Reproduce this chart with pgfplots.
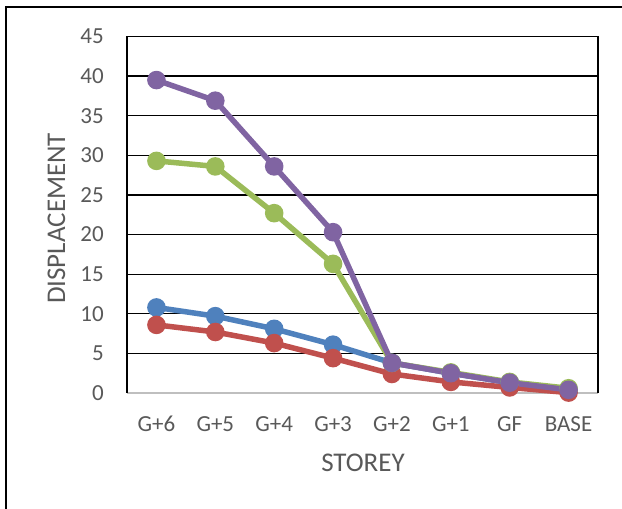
\documentclass[border=0pt]{standalone}
\usepackage{pgfplots}
\pgfplotsset{compat=1.18}
\usepackage{fontspec}
\setmainfont{Carlito}

\definecolor{txtgray}{HTML}{595959}
\definecolor{serblue}{HTML}{4F81BD}
\definecolor{serred}{HTML}{C0504D}
\definecolor{sergreen}{HTML}{9BBB59}
\definecolor{serpurple}{HTML}{8064A2}

\begin{document}
\begin{tikzpicture}[x=1pt,y=1pt]
\useasboundingbox (0,0) rectangle (622,509);
\begin{scope}
\clip (0,0) rectangle (622,509);
\draw[line width=2pt,black] (6,-20) -- (6,501.7) -- (660,501.7);
\end{scope}
\begin{axis}[
  at={(127pt,116pt)}, anchor=south west,
  scale only axis, width=471pt, height=356.5pt,
  xmin=-0.5, xmax=7.5, ymin=0, ymax=45,
  xtick={0,...,7},
  xticklabels={G+6,G+5,G+4,G+3,G+2,G+1,GF,BASE},
  ytick={0,5,...,45},
  /pgf/number format/assume math mode=true,
  axis line style={draw=none},
  major tick length=0pt,
  ymajorgrids, grid style={black, line width=1.3pt},
  tick label style={font=\fontsize{23}{27}\selectfont, text=txtgray},
  xticklabel style={inner sep=0pt, yshift=-23pt},
  yticklabel style={inner sep=0pt, xshift=-23pt},
  clip=false,
  every axis plot/.append style={line width=5.5pt, mark=*, mark size=6.5pt},
]
\draw[line width=1.5pt, black!25] (rel axis cs:0,0) -- (rel axis cs:1,0);
\draw[line width=1.5pt, black] (rel axis cs:0,0) -- (rel axis cs:0,1);
\draw[line width=1.5pt, black] (rel axis cs:1,0) -- (rel axis cs:1,1);

\addplot[serblue, mark options={fill=serblue, draw=serblue}] coordinates {
  (0,10.8) (1,9.7) (2,8.1) (3,6.1) (4,3.8) (5,2.5) (6,1.3) (7,0.4)};
\addplot[serred, mark options={fill=serred, draw=serred}] coordinates {
  (0,8.6) (1,7.7) (2,6.3) (3,4.4) (4,2.4) (5,1.4) (6,0.7) (7,0.05)};
\addplot[sergreen, mark options={fill=sergreen, draw=sergreen}] coordinates {
  (0,29.3) (1,28.6) (2,22.7) (3,16.3) (4,3.8) (5,2.6) (6,1.4) (7,0.6)};
\addplot[serpurple, mark options={fill=serpurple, draw=serpurple}] coordinates {
  (0,39.5) (1,36.9) (2,28.6) (3,20.3) (4,3.8) (5,2.5) (6,1.3) (7,0.4)};
\end{axis}
\node[rotate=90, text=txtgray, font=\fontsize{27}{32}\selectfont] at (56.5,290.6) {DISPLACEMENT};
\node[text=txtgray, font=\fontsize{27}{32}\selectfont] at (363,46) {STOREY};
\end{tikzpicture}
\end{document}
